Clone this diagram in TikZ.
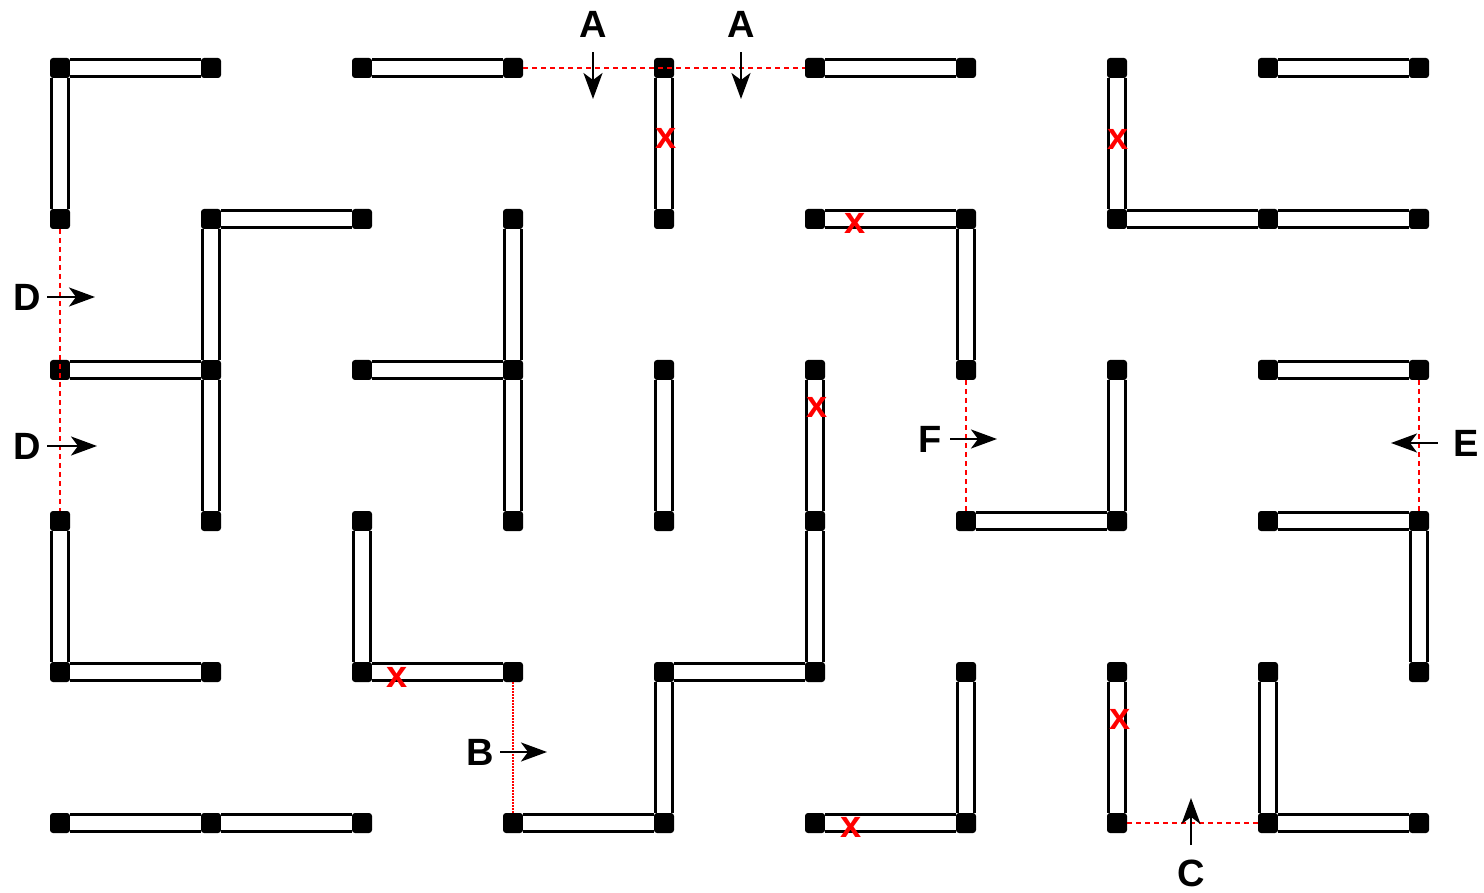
\documentclass[tikz,border=0pt]{standalone}
\usepackage{fontspec}
\setmainfont{Liberation Sans}
\usetikzlibrary{arrows.meta}

\begin{document}
\begin{tikzpicture}[
  x=0.5pt, y=-0.5pt,
  font=\fontsize{19}{22}\selectfont\bfseries,
  post/.style={fill=black, rounded corners=1.5pt, minimum size=10pt,
               inner sep=0pt, outer sep=0pt},
  bar/.style={draw=black, line width=1.4pt, double=white, double distance=7.2pt},
  gap/.style={draw=red, line width=0.75pt, dash pattern=on 2.5pt off 2pt},
  flow/.style={-{Stealth[length=13pt, width=9.5pt, inset=3.5pt]}, line width=1.2pt},
  lbl/.style={inner sep=3pt},
  cross/.style={text=red, inner sep=0pt}
]
\useasboundingbox (0,0) rectangle (1484,893);

% Posts (grid 10 x 6)
\foreach \i in {0,...,9}
  \foreach \j in {0,...,5}
    \node[post] (p-\i-\j) at ({60+151*\i},{68+151*\j}) {};

% Horizontal walls
\foreach \i/\j in {0/0,2/0,5/0,8/0,1/1,5/1,7/1,8/1,0/2,2/2,8/2,6/3,8/3,0/4,2/4,4/4,0/5,1/5,3/5,5/5,8/5}{
  \pgfmathtruncatemacro{\k}{\i+1}
  \draw[bar] (p-\i-\j) -- (p-\k-\j);
}

% Vertical walls
\foreach \i/\j in {0/0,4/0,7/0,1/1,3/1,6/1,1/2,3/2,4/2,5/2,7/2,0/3,2/3,5/3,9/3,4/4,6/4,7/4,8/4}{
  \pgfmathtruncatemacro{\k}{\j+1}
  \draw[bar] (p-\i-\j) -- (p-\i-\k);
}

% Red marks
\node[cross] (x1) at (666,138) {x};
\node[cross] (x2) at (1118,139) {x};
\node[cross] (x3) at (855,223) {x};
\node[cross] (x4) at (817,407) {x};
\node[cross] (x5) at (397,677) {x};
\node[cross] (x6) at (1120,719) {x};
\node[cross] (x7) at (851,827) {x};

% Openings
\draw[gap] (p-3-0) -- (p-5-0);
\draw[gap] (p-0-1) -- (p-0-3);
\draw[gap] (p-6-2) -- (p-6-3);
\draw[gap] (p-9-2) -- (p-9-3);
\draw[gap] (p-7-5) -- (p-8-5);
\draw[gap, line width=0.6pt, dash pattern=on 1pt off 0.5pt] (p-3-4) -- (p-3-5);

% Labels and arrows
\node[lbl] (A1) at (593,24) {A};
\coordinate (A1t) at (593,99);
\draw[flow, shorten <=4.5pt] (A1) -- (A1t);

\node[lbl] (A2) at (741,24) {A};
\coordinate (A2t) at (741,99);
\draw[flow, shorten <=4.5pt] (A2) -- (A2t);

\node[lbl] (D1) at (27,297) {D};
\coordinate (D1t) at (95,297);
\draw[flow] (D1) -- (D1t);

\node[lbl] (D2) at (27,446) {D};
\coordinate (D2t) at (97,446);
\draw[flow] (D2) -- (D2t);

\node[lbl] (F) at (930,439) {F};
\coordinate (Ft) at (997,439);
\draw[flow, shorten <=1pt] (F) -- (Ft);

\node[lbl] (E) at (1466,443) {E};
\coordinate (Et) at (1391,443);
\draw[flow, shorten <=4.5pt] (E) -- (Et);

\node[lbl] (B) at (480,752) {B};
\coordinate (Bt) at (547,752);
\draw[flow] (B) -- (Bt);

\node[lbl] (C) at (1191,873) {C};
\coordinate (Ct) at (1191,798);
\draw[flow, shorten <=4pt] (C) -- (Ct);
\end{tikzpicture}
\end{document}
